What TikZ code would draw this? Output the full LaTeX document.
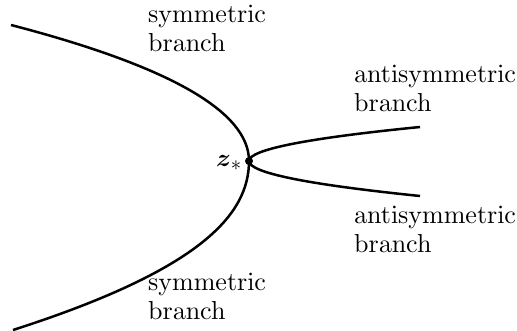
\documentclass[tikz,border=0pt]{standalone}
\usepackage{amsmath,amsbsy}
% labels in Computer Modern Roman, 10pt design size scaled up
\font\lblrm=cmr10 at 26pt
\newcommand\lblfont{\lblrm\baselineskip=29pt\relax}
\begin{document}
\begin{tikzpicture}[x=1pt,y=-1pt,
  branchline/.style={line width=2.5pt},
  lbl/.style={anchor=west,align=left,inner sep=0pt,font=\lblfont},
  dot/.style={circle,fill=black,inner sep=0pt,minimum size=8pt}]
\useasboundingbox (0,0) rectangle (517,331);

% bifurcation point
\node[dot] (zs) at (249,161) {};
\node[anchor=east,inner sep=0pt,font=\fontsize{28}{30}\selectfont] (zl) at (242,163) {$\boldsymbol{z}_*$};

% free ends of the branches
\coordinate (ul) at (11,25);
\coordinate (ll) at (13,330);
\coordinate (ur) at (420,127);
\coordinate (lr) at (420,196);

% symmetric branch
\draw[branchline] (ul) .. controls (169.7,66.3) and (249,111.7) .. (zs.center)
  .. controls (249,215) and (200,270) .. (ll);
% antisymmetric branches
\draw[branchline] (zs.center) .. controls (249,149.7) and (306,138.3) .. (ur);
\draw[branchline] (zs.center) .. controls (249,172.7) and (306,184.3) .. (lr);

% labels
\node[lbl] (st) at (148,28.5) {symmetric\\branch};
\node[lbl] (at) at (354,88.5) {antisymmetric\\branch};
\node[lbl] (ab) at (354,229.5) {antisymmetric\\branch};
\node[lbl] (sb) at (148,296.5) {symmetric\\branch};
\end{tikzpicture}
\end{document}
